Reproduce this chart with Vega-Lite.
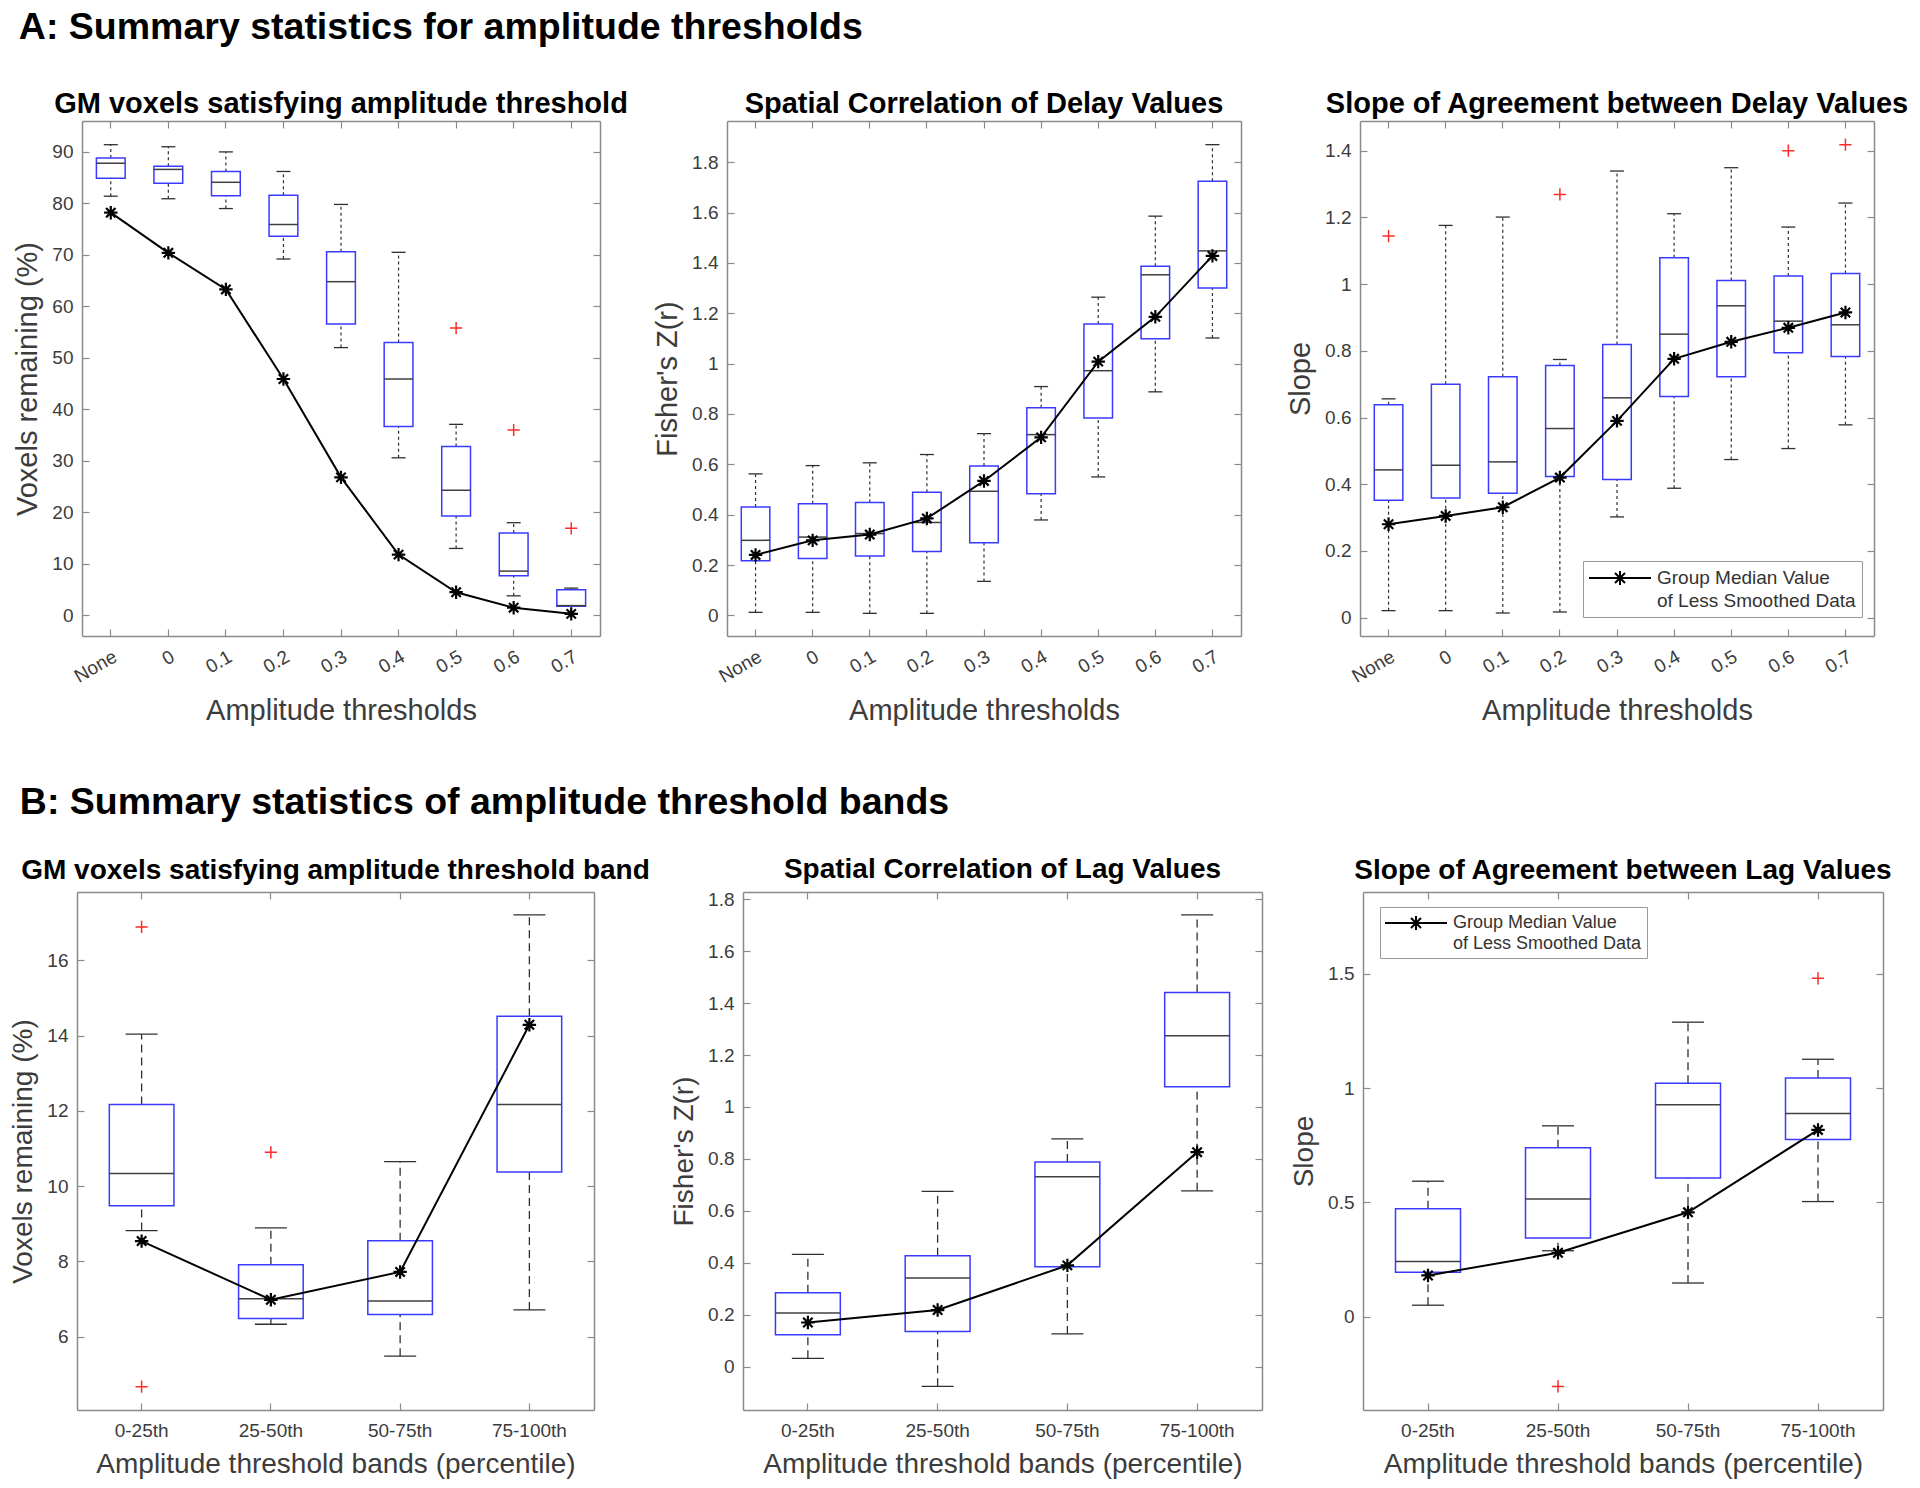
{
"$schema": "https://vega.github.io/schema/vega-lite/v6.json",
"background": "white",
"padding": {"left": 9, "top": 8, "right": 4, "bottom": 6},
"spacing": 57,
"resolve": {"scale": {"stroke": "independent"}, "legend": {"stroke": "independent"}},
"datasets": {
"a1": [
{"cat":"None","lo":81.4,"q1":84.9,"med":87.8,"q3":88.8,"hi":91.4,"star":78.2},
{"cat":"0","lo":80.9,"q1":83.9,"med":86.6,"q3":87.2,"hi":91.0,"star":70.4},
{"cat":"0.1","lo":79.0,"q1":81.5,"med":84.1,"q3":86.2,"hi":90.0,"star":63.3},
{"cat":"0.2","lo":69.2,"q1":73.6,"med":75.9,"q3":81.6,"hi":86.2,"star":45.9},
{"cat":"0.3","lo":52.0,"q1":56.6,"med":64.8,"q3":70.6,"hi":79.8,"star":26.8},
{"cat":"0.4","lo":30.6,"q1":36.7,"med":45.9,"q3":53.0,"hi":70.5,"star":11.8},
{"cat":"0.5","lo":13.0,"q1":19.3,"med":24.3,"q3":32.8,"hi":37.1,"star":4.5},
{"cat":"0.6","lo":3.8,"q1":7.7,"med":8.6,"q3":16.0,"hi":18.0,"star":1.5},
{"cat":"0.7","lo":1.8,"q1":1.8,"med":1.9,"q3":5.0,"hi":5.3,"star":0.3}
],
"a1o": [{"cat":"0.5","v":55.8},{"cat":"0.6","v":36.0},{"cat":"0.7","v":16.9}],
"a2": [
{"cat":"None","lo":0.012,"q1":0.217,"med":0.298,"q3":0.430,"hi":0.562,"star":0.240},
{"cat":"0","lo":0.012,"q1":0.226,"med":0.311,"q3":0.443,"hi":0.595,"star":0.298},
{"cat":"0.1","lo":0.008,"q1":0.236,"med":0.325,"q3":0.448,"hi":0.606,"star":0.321},
{"cat":"0.2","lo":0.008,"q1":0.254,"med":0.369,"q3":0.489,"hi":0.639,"star":0.385},
{"cat":"0.3","lo":0.135,"q1":0.288,"med":0.493,"q3":0.593,"hi":0.722,"star":0.534},
{"cat":"0.4","lo":0.379,"q1":0.483,"med":0.718,"q3":0.825,"hi":0.909,"star":0.707},
{"cat":"0.5","lo":0.550,"q1":0.784,"med":0.972,"q3":1.158,"hi":1.264,"star":1.008},
{"cat":"0.6","lo":0.888,"q1":1.099,"med":1.353,"q3":1.387,"hi":1.586,"star":1.186},
{"cat":"0.7","lo":1.102,"q1":1.301,"med":1.448,"q3":1.725,"hi":1.870,"star":1.428}
],
"a3": [
{"cat":"None","lo":0.021,"q1":0.352,"med":0.443,"q3":0.638,"hi":0.656,"star":0.280},
{"cat":"0","lo":0.021,"q1":0.359,"med":0.457,"q3":0.700,"hi":1.176,"star":0.305},
{"cat":"0.1","lo":0.014,"q1":0.373,"med":0.467,"q3":0.722,"hi":1.201,"star":0.331},
{"cat":"0.2","lo":0.017,"q1":0.423,"med":0.567,"q3":0.756,"hi":0.774,"star":0.420},
{"cat":"0.3","lo":0.302,"q1":0.414,"med":0.659,"q3":0.819,"hi":1.339,"star":0.590},
{"cat":"0.4","lo":0.388,"q1":0.663,"med":0.850,"q3":1.079,"hi":1.211,"star":0.776},
{"cat":"0.5","lo":0.474,"q1":0.722,"med":0.935,"q3":1.011,"hi":1.349,"star":0.827},
{"cat":"0.6","lo":0.507,"q1":0.794,"med":0.889,"q3":1.024,"hi":1.171,"star":0.869},
{"cat":"0.7","lo":0.578,"q1":0.783,"med":0.878,"q3":1.032,"hi":1.243,"star":0.915}
],
"a3o": [{"cat":"None","v":1.144},{"cat":"0.2","v":1.269},{"cat":"0.6","v":1.400},{"cat":"0.7","v":1.418}],
"b1": [
{"cat":"0-25th","lo":8.82,"q1":9.48,"med":10.34,"q3":12.17,"hi":14.04,"star":8.54},
{"cat":"25-50th","lo":6.33,"q1":6.48,"med":7.01,"q3":7.91,"hi":8.89,"star":6.98},
{"cat":"50-75th","lo":5.48,"q1":6.59,"med":6.95,"q3":8.55,"hi":10.65,"star":7.72},
{"cat":"75-100th","lo":6.71,"q1":10.38,"med":12.17,"q3":14.52,"hi":17.21,"star":14.29}
],
"b1o": [{"cat":"0-25th","v":16.89},{"cat":"0-25th","v":4.67},{"cat":"25-50th","v":10.90}],
"b2": [
{"cat":"0-25th","lo":0.032,"q1":0.123,"med":0.207,"q3":0.285,"hi":0.432,"star":0.170},
{"cat":"25-50th","lo":-0.076,"q1":0.135,"med":0.341,"q3":0.427,"hi":0.675,"star":0.218},
{"cat":"50-75th","lo":0.126,"q1":0.385,"med":0.731,"q3":0.788,"hi":0.877,"star":0.390},
{"cat":"75-100th","lo":0.677,"q1":1.078,"med":1.274,"q3":1.441,"hi":1.740,"star":0.826}
],
"b3": [
{"cat":"0-25th","lo":0.051,"q1":0.195,"med":0.242,"q3":0.473,"hi":0.593,"star":0.181},
{"cat":"25-50th","lo":0.289,"q1":0.345,"med":0.515,"q3":0.739,"hi":0.835,"star":0.280},
{"cat":"50-75th","lo":0.148,"q1":0.607,"med":0.927,"q3":1.021,"hi":1.288,"star":0.457},
{"cat":"75-100th","lo":0.504,"q1":0.775,"med":0.889,"q3":1.044,"hi":1.126,"star":0.817}
],
"b3o": [{"cat":"25-50th","v":-0.304},{"cat":"75-100th","v":1.480}]
},
"vconcat": [
{
"title": {"text": "A: Summary statistics for amplitude thresholds", "anchor": "start", "frame": "bounds", "fontSize": 37.5, "offset": 14, "dx": 5, "baseline": "alphabetic"},
"bounds": "flush",
"spacing": 119,
"resolve": {"scale": {"stroke": "independent"}, "legend": {"stroke": "independent"}},
"hconcat": [
{
"width": 531, "height": 515,
"title": {"text": "GM voxels satisfying amplitude threshold", "frame": "group", "dx": -1.5, "offset": -22, "baseline": "alphabetic", "fontSize": 29},
"encoding": {"x": {"field": "cat", "type": "nominal", "sort": ["None","0","0.1","0.2","0.3","0.4","0.5","0.6","0.7"], "scale": {"range": [5, 523], "paddingInner": 0.5, "paddingOuter": 0.25}, "axis": null}},
"layer": [
{"data": {"name": "a1"}, "mark": {"type": "rule", "color": "#303030", "strokeWidth": 1.2, "strokeDash": [3, 3]}, "encoding": {"y": {"field": "lo", "type": "quantitative", "scale": {"domain": [-4, 96], "nice": false, "zero": false}, "axis": null}, "y2": {"field": "q1"}}},
{"data": {"name": "a1"}, "mark": {"type": "rule", "color": "#303030", "strokeWidth": 1.2, "strokeDash": [3, 3]}, "encoding": {"y": {"field": "q3", "type": "quantitative", "scale": {"domain": [-4, 96], "nice": false, "zero": false}, "axis": null}, "y2": {"field": "hi"}}},
{"data": {"name": "a1"}, "mark": {"type": "tick", "color": "#303030", "size": 14, "thickness": 1.3, "opacity": 1}, "encoding": {"y": {"field": "lo", "type": "quantitative", "scale": {"domain": [-4, 96], "nice": false, "zero": false}, "axis": null}}},
{"data": {"name": "a1"}, "mark": {"type": "tick", "color": "#303030", "size": 14, "thickness": 1.3, "opacity": 1}, "encoding": {"y": {"field": "hi", "type": "quantitative", "scale": {"domain": [-4, 96], "nice": false, "zero": false}, "axis": null}}},
{"data": {"name": "a1"}, "mark": {"type": "bar", "fillOpacity": 0, "stroke": "#3a3aff", "strokeWidth": 1.5}, "encoding": {
 "x": {"field": "cat", "type": "nominal", "sort": ["None","0","0.1","0.2","0.3","0.4","0.5","0.6","0.7"], "scale": {"range": [5, 523], "paddingInner": 0.5, "paddingOuter": 0.25}, "axis": {"orient": "bottom", "title": "Amplitude thresholds", "labelAngle": -30, "labelPadding": 18, "titlePadding": 10}},
 "y": {"field": "q1", "type": "quantitative", "scale": {"domain": [-4, 96], "nice": false, "zero": false}, "axis": {"orient": "left", "offset": -5, "values": [0,10,20,30,40,50,60,70,80,90], "labelExpr": "'' + round(datum.value*100)/100", "title": "Voxels remaining (%)"}},
 "y2": {"field": "q3"}}},
{"data": {"name": "a1"}, "mark": {"type": "tick", "color": "#404040", "size": 29, "thickness": 1.5, "opacity": 1}, "encoding": {
 "x": {"field": "cat", "type": "nominal", "sort": ["None","0","0.1","0.2","0.3","0.4","0.5","0.6","0.7"], "scale": {"range": [5, 523], "paddingInner": 0.5, "paddingOuter": 0.25}, "axis": {"orient": "top", "labels": false, "title": null, "minExtent": 0, "maxExtent": 0}},
 "y": {"field": "med", "type": "quantitative", "scale": {"domain": [-4, 96], "nice": false, "zero": false}, "axis": {"orient": "right", "values": [0,10,20,30,40,50,60,70,80,90], "labels": false, "title": null, "offset": -8, "minExtent": 0, "maxExtent": 0}}}},
{"data": {"name": "a1"}, "mark": {"type": "line", "color": "black", "strokeWidth": 2}, "encoding": {"y": {"field": "star", "type": "quantitative", "scale": {"domain": [-4, 96], "nice": false, "zero": false}, "axis": null}}},
{"data": {"name": "a1"}, "mark": {"type": "point", "shape": "M-1,0L1,0M0,-1L0,1M-0.7,-0.7L0.7,0.7M-0.7,0.7L0.7,-0.7", "filled": false, "color": "black", "strokeWidth": 2.2, "size": 180, "opacity": 1}, "encoding": {"y": {"field": "star", "type": "quantitative", "scale": {"domain": [-4, 96], "nice": false, "zero": false}, "axis": null}}},
{"data": {"name": "a1o"}, "mark": {"type": "point", "shape": "M-1,0L1,0M0,-1L0,1", "filled": false, "color": "#ff2a2a", "strokeWidth": 1.5, "size": 150, "opacity": 1}, "encoding": {"y": {"field": "v", "type": "quantitative", "scale": {"domain": [-4, 96], "nice": false, "zero": false}, "axis": null}}}
]
},
{
"width": 514, "height": 515,
"title": {"text": "Spatial Correlation of Delay Values", "frame": "group", "offset": -22, "baseline": "alphabetic", "fontSize": 29},
"encoding": {"x": {"field": "cat", "type": "nominal", "sort": ["None","0","0.1","0.2","0.3","0.4","0.5","0.6","0.7"], "scale": {"paddingInner": 0.5, "paddingOuter": 0.25}, "axis": null}},
"layer": [
{"data": {"name": "a2"}, "mark": {"type": "rule", "color": "#303030", "strokeWidth": 1.2, "strokeDash": [3, 3]}, "encoding": {"y": {"field": "lo", "type": "quantitative", "scale": {"domain": [-0.082, 1.964], "nice": false, "zero": false}, "axis": null}, "y2": {"field": "q1"}}},
{"data": {"name": "a2"}, "mark": {"type": "rule", "color": "#303030", "strokeWidth": 1.2, "strokeDash": [3, 3]}, "encoding": {"y": {"field": "q3", "type": "quantitative", "scale": {"domain": [-0.082, 1.964], "nice": false, "zero": false}, "axis": null}, "y2": {"field": "hi"}}},
{"data": {"name": "a2"}, "mark": {"type": "tick", "color": "#303030", "size": 14, "thickness": 1.3, "opacity": 1}, "encoding": {"y": {"field": "lo", "type": "quantitative", "scale": {"domain": [-0.082, 1.964], "nice": false, "zero": false}, "axis": null}}},
{"data": {"name": "a2"}, "mark": {"type": "tick", "color": "#303030", "size": 14, "thickness": 1.3, "opacity": 1}, "encoding": {"y": {"field": "hi", "type": "quantitative", "scale": {"domain": [-0.082, 1.964], "nice": false, "zero": false}, "axis": null}}},
{"data": {"name": "a2"}, "mark": {"type": "bar", "fillOpacity": 0, "stroke": "#3a3aff", "strokeWidth": 1.5}, "encoding": {
 "x": {"field": "cat", "type": "nominal", "sort": ["None","0","0.1","0.2","0.3","0.4","0.5","0.6","0.7"], "scale": {"paddingInner": 0.5, "paddingOuter": 0.25}, "axis": {"orient": "bottom", "title": "Amplitude thresholds", "labelAngle": -30, "labelPadding": 18, "titlePadding": 10}},
 "y": {"field": "q1", "type": "quantitative", "scale": {"domain": [-0.082, 1.964], "nice": false, "zero": false}, "axis": {"orient": "left", "values": [0,0.2,0.4,0.6,0.8,1,1.2,1.4,1.6,1.8], "labelExpr": "'' + round(datum.value*100)/100", "title": "Fisher's Z(r)"}},
 "y2": {"field": "q3"}}},
{"data": {"name": "a2"}, "mark": {"type": "tick", "color": "#404040", "size": 29, "thickness": 1.5, "opacity": 1}, "encoding": {
 "x": {"field": "cat", "type": "nominal", "sort": ["None","0","0.1","0.2","0.3","0.4","0.5","0.6","0.7"], "scale": {"paddingInner": 0.5, "paddingOuter": 0.25}, "axis": {"orient": "top", "labels": false, "title": null, "minExtent": 0, "maxExtent": 0}},
 "y": {"field": "med", "type": "quantitative", "scale": {"domain": [-0.082, 1.964], "nice": false, "zero": false}, "axis": {"orient": "right", "values": [0,0.2,0.4,0.6,0.8,1,1.2,1.4,1.6,1.8], "labels": false, "title": null, "minExtent": 0, "maxExtent": 0}}}},
{"data": {"name": "a2"}, "mark": {"type": "line", "color": "black", "strokeWidth": 2}, "encoding": {"y": {"field": "star", "type": "quantitative", "scale": {"domain": [-0.082, 1.964], "nice": false, "zero": false}, "axis": null}}},
{"data": {"name": "a2"}, "mark": {"type": "point", "shape": "M-1,0L1,0M0,-1L0,1M-0.7,-0.7L0.7,0.7M-0.7,0.7L0.7,-0.7", "filled": false, "color": "black", "strokeWidth": 2.2, "size": 180, "opacity": 1}, "encoding": {"y": {"field": "star", "type": "quantitative", "scale": {"domain": [-0.082, 1.964], "nice": false, "zero": false}, "axis": null}}}
]
},
{
"width": 514, "height": 515,
"title": {"text": "Slope of Agreement between Delay Values", "frame": "group", "offset": -22, "baseline": "alphabetic", "fontSize": 29},
"encoding": {"x": {"field": "cat", "type": "nominal", "sort": ["None","0","0.1","0.2","0.3","0.4","0.5","0.6","0.7"], "scale": {"paddingInner": 0.5, "paddingOuter": 0.25}, "axis": null}},
"layer": [
{"data": {"name": "a3"}, "mark": {"type": "rule", "color": "#303030", "strokeWidth": 1.2, "strokeDash": [3, 3]}, "encoding": {"y": {"field": "lo", "type": "quantitative", "scale": {"domain": [-0.055, 1.489], "nice": false, "zero": false}, "axis": null}, "y2": {"field": "q1"}}},
{"data": {"name": "a3"}, "mark": {"type": "rule", "color": "#303030", "strokeWidth": 1.2, "strokeDash": [3, 3]}, "encoding": {"y": {"field": "q3", "type": "quantitative", "scale": {"domain": [-0.055, 1.489], "nice": false, "zero": false}, "axis": null}, "y2": {"field": "hi"}}},
{"data": {"name": "a3"}, "mark": {"type": "tick", "color": "#303030", "size": 14, "thickness": 1.3, "opacity": 1}, "encoding": {"y": {"field": "lo", "type": "quantitative", "scale": {"domain": [-0.055, 1.489], "nice": false, "zero": false}, "axis": null}}},
{"data": {"name": "a3"}, "mark": {"type": "tick", "color": "#303030", "size": 14, "thickness": 1.3, "opacity": 1}, "encoding": {"y": {"field": "hi", "type": "quantitative", "scale": {"domain": [-0.055, 1.489], "nice": false, "zero": false}, "axis": null}}},
{"data": {"name": "a3"}, "mark": {"type": "bar", "fillOpacity": 0, "stroke": "#3a3aff", "strokeWidth": 1.5}, "encoding": {
 "x": {"field": "cat", "type": "nominal", "sort": ["None","0","0.1","0.2","0.3","0.4","0.5","0.6","0.7"], "scale": {"paddingInner": 0.5, "paddingOuter": 0.25}, "axis": {"orient": "bottom", "title": "Amplitude thresholds", "labelAngle": -30, "labelPadding": 18, "titlePadding": 10}},
 "y": {"field": "q1", "type": "quantitative", "scale": {"domain": [-0.055, 1.489], "nice": false, "zero": false}, "axis": {"orient": "left", "values": [0,0.2,0.4,0.6,0.8,1,1.2,1.4], "labelExpr": "'' + round(datum.value*100)/100", "title": "Slope"}},
 "y2": {"field": "q3"}}},
{"data": {"name": "a3"}, "mark": {"type": "tick", "color": "#404040", "size": 29, "thickness": 1.5, "opacity": 1}, "encoding": {
 "x": {"field": "cat", "type": "nominal", "sort": ["None","0","0.1","0.2","0.3","0.4","0.5","0.6","0.7"], "scale": {"paddingInner": 0.5, "paddingOuter": 0.25}, "axis": {"orient": "top", "labels": false, "title": null, "minExtent": 0, "maxExtent": 0}},
 "y": {"field": "med", "type": "quantitative", "scale": {"domain": [-0.055, 1.489], "nice": false, "zero": false}, "axis": {"orient": "right", "values": [0,0.2,0.4,0.6,0.8,1,1.2,1.4], "labels": false, "title": null, "minExtent": 0, "maxExtent": 0}}}},
{"data": {"name": "a3"}, "mark": {"type": "line", "strokeWidth": 2}, "encoding": {
 "y": {"field": "star", "type": "quantitative", "scale": {"domain": [-0.055, 1.489], "nice": false, "zero": false}, "axis": null},
 "stroke": {"datum": "Group Median Value of Less Smoothed Data", "type": "nominal", "scale": {"range": ["black"]}, "legend": {"orient": "none", "legendX": 223, "legendY": 440, "title": null, "symbolType": "M-3.1,0L3.1,0M-0.7,0L0.7,0M0,-0.7L0,0.7M-0.5,-0.5L0.5,0.5M-0.5,0.5L0.5,-0.5", "symbolSize": 400, "symbolOffset": 20, "symbolStrokeWidth": 2, "symbolStrokeColor": "black", "symbolFillColor": "transparent", "labelExpr": "['Group Median Value', 'of Less Smoothed Data']", "labelFont": "Liberation Sans", "labelFontSize": 19, "labelColor": "#333333", "labelLimit": 0, "labelOffset": 26, "padding": 6, "strokeColor": "#9a9a9a", "fillColor": "white", "cornerRadius": 0, "encode": {"labels": {"update": {"lineHeight": {"value": 23}}}}}}}},
{"data": {"name": "a3"}, "mark": {"type": "point", "shape": "M-1,0L1,0M0,-1L0,1M-0.7,-0.7L0.7,0.7M-0.7,0.7L0.7,-0.7", "filled": false, "color": "black", "strokeWidth": 2.2, "size": 180, "opacity": 1}, "encoding": {"y": {"field": "star", "type": "quantitative", "scale": {"domain": [-0.055, 1.489], "nice": false, "zero": false}, "axis": null}}},
{"data": {"name": "a3o"}, "mark": {"type": "point", "shape": "M-1,0L1,0M0,-1L0,1", "filled": false, "color": "#ff2a2a", "strokeWidth": 1.5, "size": 150, "opacity": 1}, "encoding": {"y": {"field": "v", "type": "quantitative", "scale": {"domain": [-0.055, 1.489], "nice": false, "zero": false}, "axis": null}}}
]
}
]
},
{
"title": {"text": "B: Summary statistics of amplitude threshold bands", "anchor": "start", "frame": "bounds", "fontSize": 37.5, "offset": 5, "dx": 10, "baseline": "alphabetic"},
"bounds": "flush",
"spacing": 101,
"resolve": {"scale": {"stroke": "independent"}, "legend": {"stroke": "independent"}},
"hconcat": [
{
"width": 565, "height": 518,
"title": {"text": "GM voxels satisfying amplitude threshold band", "frame": "group", "dx": -24, "offset": -16, "baseline": "alphabetic", "fontSize": 28},
"encoding": {"x": {"field": "cat", "type": "nominal", "sort": ["0-25th","25-50th","50-75th","75-100th"], "scale": {"range": [0, 517], "paddingInner": 0.5, "paddingOuter": 0.25}, "axis": null}},
"layer": [
{"data": {"name": "b1"}, "mark": {"type": "rule", "color": "#303030", "strokeWidth": 1.3, "strokeDash": [8, 5]}, "encoding": {"y": {"field": "lo", "type": "quantitative", "scale": {"domain": [4.05, 17.82], "nice": false, "zero": false}, "axis": null}, "y2": {"field": "q1"}}},
{"data": {"name": "b1"}, "mark": {"type": "rule", "color": "#303030", "strokeWidth": 1.3, "strokeDash": [8, 5]}, "encoding": {"y": {"field": "q3", "type": "quantitative", "scale": {"domain": [4.05, 17.82], "nice": false, "zero": false}, "axis": null}, "y2": {"field": "hi"}}},
{"data": {"name": "b1"}, "mark": {"type": "tick", "color": "#303030", "size": 32, "thickness": 1.3, "opacity": 1}, "encoding": {"y": {"field": "lo", "type": "quantitative", "scale": {"domain": [4.05, 17.82], "nice": false, "zero": false}, "axis": null}}},
{"data": {"name": "b1"}, "mark": {"type": "tick", "color": "#303030", "size": 32, "thickness": 1.3, "opacity": 1}, "encoding": {"y": {"field": "hi", "type": "quantitative", "scale": {"domain": [4.05, 17.82], "nice": false, "zero": false}, "axis": null}}},
{"data": {"name": "b1"}, "mark": {"type": "bar", "fillOpacity": 0, "stroke": "#3a3aff", "strokeWidth": 1.5}, "encoding": {
 "x": {"field": "cat", "type": "nominal", "sort": ["0-25th","25-50th","50-75th","75-100th"], "scale": {"range": [0, 517], "paddingInner": 0.5, "paddingOuter": 0.25}, "axis": {"orient": "bottom", "title": "Amplitude threshold bands (percentile)", "labelAngle": 0, "labelPadding": 18, "titlePadding": 10, "titleFontSize": 28}},
 "y": {"field": "q1", "type": "quantitative", "scale": {"domain": [4.05, 17.82], "nice": false, "zero": false}, "axis": {"orient": "left", "values": [6,8,10,12,14,16], "labelExpr": "'' + round(datum.value*100)/100", "title": "Voxels remaining (%)", "titleFontSize": 28, "titlePadding": 9}},
 "y2": {"field": "q3"}}},
{"data": {"name": "b1"}, "mark": {"type": "tick", "color": "#404040", "size": 65, "thickness": 1.5, "opacity": 1}, "encoding": {
 "x": {"field": "cat", "type": "nominal", "sort": ["0-25th","25-50th","50-75th","75-100th"], "scale": {"range": [0, 517], "paddingInner": 0.5, "paddingOuter": 0.25}, "axis": {"orient": "top", "labels": false, "title": null, "minExtent": 0, "maxExtent": 0}},
 "y": {"field": "med", "type": "quantitative", "scale": {"domain": [4.05, 17.82], "nice": false, "zero": false}, "axis": {"orient": "right", "values": [6,8,10,12,14,16], "labels": false, "title": null, "offset": -48, "minExtent": 0, "maxExtent": 0}}}},
{"data": {"name": "b1"}, "mark": {"type": "line", "color": "black", "strokeWidth": 2}, "encoding": {"y": {"field": "star", "type": "quantitative", "scale": {"domain": [4.05, 17.82], "nice": false, "zero": false}, "axis": null}}},
{"data": {"name": "b1"}, "mark": {"type": "point", "shape": "M-1,0L1,0M0,-1L0,1M-0.7,-0.7L0.7,0.7M-0.7,0.7L0.7,-0.7", "filled": false, "color": "black", "strokeWidth": 2.2, "size": 180, "opacity": 1}, "encoding": {"y": {"field": "star", "type": "quantitative", "scale": {"domain": [4.05, 17.82], "nice": false, "zero": false}, "axis": null}}},
{"data": {"name": "b1o"}, "mark": {"type": "point", "shape": "M-1,0L1,0M0,-1L0,1", "filled": false, "color": "#ff2a2a", "strokeWidth": 1.5, "size": 150, "opacity": 1}, "encoding": {"y": {"field": "v", "type": "quantitative", "scale": {"domain": [4.05, 17.82], "nice": false, "zero": false}, "axis": null}}}
]
},
{
"width": 519, "height": 518,
"title": {"text": "Spatial Correlation of Lag Values", "frame": "group", "offset": -16, "baseline": "alphabetic", "fontSize": 28},
"encoding": {"x": {"field": "cat", "type": "nominal", "sort": ["0-25th","25-50th","50-75th","75-100th"], "scale": {"paddingInner": 0.5, "paddingOuter": 0.25}, "axis": null}},
"layer": [
{"data": {"name": "b2"}, "mark": {"type": "rule", "color": "#303030", "strokeWidth": 1.3, "strokeDash": [8, 5]}, "encoding": {"y": {"field": "lo", "type": "quantitative", "scale": {"domain": [-0.167, 1.828], "nice": false, "zero": false}, "axis": null}, "y2": {"field": "q1"}}},
{"data": {"name": "b2"}, "mark": {"type": "rule", "color": "#303030", "strokeWidth": 1.3, "strokeDash": [8, 5]}, "encoding": {"y": {"field": "q3", "type": "quantitative", "scale": {"domain": [-0.167, 1.828], "nice": false, "zero": false}, "axis": null}, "y2": {"field": "hi"}}},
{"data": {"name": "b2"}, "mark": {"type": "tick", "color": "#303030", "size": 32, "thickness": 1.3, "opacity": 1}, "encoding": {"y": {"field": "lo", "type": "quantitative", "scale": {"domain": [-0.167, 1.828], "nice": false, "zero": false}, "axis": null}}},
{"data": {"name": "b2"}, "mark": {"type": "tick", "color": "#303030", "size": 32, "thickness": 1.3, "opacity": 1}, "encoding": {"y": {"field": "hi", "type": "quantitative", "scale": {"domain": [-0.167, 1.828], "nice": false, "zero": false}, "axis": null}}},
{"data": {"name": "b2"}, "mark": {"type": "bar", "fillOpacity": 0, "stroke": "#3a3aff", "strokeWidth": 1.5}, "encoding": {
 "x": {"field": "cat", "type": "nominal", "sort": ["0-25th","25-50th","50-75th","75-100th"], "scale": {"paddingInner": 0.5, "paddingOuter": 0.25}, "axis": {"orient": "bottom", "title": "Amplitude threshold bands (percentile)", "labelAngle": 0, "labelPadding": 18, "titlePadding": 10, "titleFontSize": 28}},
 "y": {"field": "q1", "type": "quantitative", "scale": {"domain": [-0.167, 1.828], "nice": false, "zero": false}, "axis": {"orient": "left", "values": [0,0.2,0.4,0.6,0.8,1,1.2,1.4,1.6,1.8], "labelExpr": "'' + round(datum.value*100)/100", "title": "Fisher's Z(r)", "titleFontSize": 28}},
 "y2": {"field": "q3"}}},
{"data": {"name": "b2"}, "mark": {"type": "tick", "color": "#404040", "size": 65, "thickness": 1.5, "opacity": 1}, "encoding": {
 "x": {"field": "cat", "type": "nominal", "sort": ["0-25th","25-50th","50-75th","75-100th"], "scale": {"paddingInner": 0.5, "paddingOuter": 0.25}, "axis": {"orient": "top", "labels": false, "title": null, "minExtent": 0, "maxExtent": 0}},
 "y": {"field": "med", "type": "quantitative", "scale": {"domain": [-0.167, 1.828], "nice": false, "zero": false}, "axis": {"orient": "right", "values": [0,0.2,0.4,0.6,0.8,1,1.2,1.4,1.6,1.8], "labels": false, "title": null, "minExtent": 0, "maxExtent": 0}}}},
{"data": {"name": "b2"}, "mark": {"type": "line", "color": "black", "strokeWidth": 2}, "encoding": {"y": {"field": "star", "type": "quantitative", "scale": {"domain": [-0.167, 1.828], "nice": false, "zero": false}, "axis": null}}},
{"data": {"name": "b2"}, "mark": {"type": "point", "shape": "M-1,0L1,0M0,-1L0,1M-0.7,-0.7L0.7,0.7M-0.7,0.7L0.7,-0.7", "filled": false, "color": "black", "strokeWidth": 2.2, "size": 180, "opacity": 1}, "encoding": {"y": {"field": "star", "type": "quantitative", "scale": {"domain": [-0.167, 1.828], "nice": false, "zero": false}, "axis": null}}}
]
},
{
"width": 520, "height": 518,
"title": {"text": "Slope of Agreement between Lag Values", "frame": "group", "offset": -16, "baseline": "alphabetic", "fontSize": 28},
"encoding": {"x": {"field": "cat", "type": "nominal", "sort": ["0-25th","25-50th","50-75th","75-100th"], "scale": {"paddingInner": 0.5, "paddingOuter": 0.25}, "axis": null}},
"layer": [
{"data": {"name": "b3"}, "mark": {"type": "rule", "color": "#303030", "strokeWidth": 1.3, "strokeDash": [8, 5]}, "encoding": {"y": {"field": "lo", "type": "quantitative", "scale": {"domain": [-0.407, 1.857], "nice": false, "zero": false}, "axis": null}, "y2": {"field": "q1"}}},
{"data": {"name": "b3"}, "mark": {"type": "rule", "color": "#303030", "strokeWidth": 1.3, "strokeDash": [8, 5]}, "encoding": {"y": {"field": "q3", "type": "quantitative", "scale": {"domain": [-0.407, 1.857], "nice": false, "zero": false}, "axis": null}, "y2": {"field": "hi"}}},
{"data": {"name": "b3"}, "mark": {"type": "tick", "color": "#303030", "size": 32, "thickness": 1.3, "opacity": 1}, "encoding": {"y": {"field": "lo", "type": "quantitative", "scale": {"domain": [-0.407, 1.857], "nice": false, "zero": false}, "axis": null}}},
{"data": {"name": "b3"}, "mark": {"type": "tick", "color": "#303030", "size": 32, "thickness": 1.3, "opacity": 1}, "encoding": {"y": {"field": "hi", "type": "quantitative", "scale": {"domain": [-0.407, 1.857], "nice": false, "zero": false}, "axis": null}}},
{"data": {"name": "b3"}, "mark": {"type": "bar", "fillOpacity": 0, "stroke": "#3a3aff", "strokeWidth": 1.5}, "encoding": {
 "x": {"field": "cat", "type": "nominal", "sort": ["0-25th","25-50th","50-75th","75-100th"], "scale": {"paddingInner": 0.5, "paddingOuter": 0.25}, "axis": {"orient": "bottom", "title": "Amplitude threshold bands (percentile)", "labelAngle": 0, "labelPadding": 18, "titlePadding": 10, "titleFontSize": 28}},
 "y": {"field": "q1", "type": "quantitative", "scale": {"domain": [-0.407, 1.857], "nice": false, "zero": false}, "axis": {"orient": "left", "values": [0,0.5,1,1.5], "labelExpr": "'' + round(datum.value*100)/100", "title": "Slope", "titleFontSize": 28}},
 "y2": {"field": "q3"}}},
{"data": {"name": "b3"}, "mark": {"type": "tick", "color": "#404040", "size": 65, "thickness": 1.5, "opacity": 1}, "encoding": {
 "x": {"field": "cat", "type": "nominal", "sort": ["0-25th","25-50th","50-75th","75-100th"], "scale": {"paddingInner": 0.5, "paddingOuter": 0.25}, "axis": {"orient": "top", "labels": false, "title": null, "minExtent": 0, "maxExtent": 0}},
 "y": {"field": "med", "type": "quantitative", "scale": {"domain": [-0.407, 1.857], "nice": false, "zero": false}, "axis": {"orient": "right", "values": [0,0.5,1,1.5], "labels": false, "title": null, "minExtent": 0, "maxExtent": 0}}}},
{"data": {"name": "b3"}, "mark": {"type": "line", "strokeWidth": 2}, "encoding": {
 "y": {"field": "star", "type": "quantitative", "scale": {"domain": [-0.407, 1.857], "nice": false, "zero": false}, "axis": null},
 "stroke": {"datum": "Group Median Value of Less Smoothed Data", "type": "nominal", "scale": {"range": ["black"]}, "legend": {"orient": "none", "legendX": 17, "legendY": 15, "title": null, "symbolType": "M-3.1,0L3.1,0M-0.7,0L0.7,0M0,-0.7L0,0.7M-0.5,-0.5L0.5,0.5M-0.5,0.5L0.5,-0.5", "symbolSize": 400, "symbolOffset": 20, "symbolStrokeWidth": 2, "symbolStrokeColor": "black", "symbolFillColor": "transparent", "labelExpr": "['Group Median Value', 'of Less Smoothed Data']", "labelFont": "Liberation Sans", "labelFontSize": 18, "labelColor": "#333333", "labelLimit": 0, "labelOffset": 26, "padding": 5, "strokeColor": "#9a9a9a", "fillColor": "white", "cornerRadius": 0, "encode": {"labels": {"update": {"lineHeight": {"value": 21}}}}}}}},
{"data": {"name": "b3"}, "mark": {"type": "point", "shape": "M-1,0L1,0M0,-1L0,1M-0.7,-0.7L0.7,0.7M-0.7,0.7L0.7,-0.7", "filled": false, "color": "black", "strokeWidth": 2.2, "size": 180, "opacity": 1}, "encoding": {"y": {"field": "star", "type": "quantitative", "scale": {"domain": [-0.407, 1.857], "nice": false, "zero": false}, "axis": null}}},
{"data": {"name": "b3o"}, "mark": {"type": "point", "shape": "M-1,0L1,0M0,-1L0,1", "filled": false, "color": "#ff2a2a", "strokeWidth": 1.5, "size": 150, "opacity": 1}, "encoding": {"y": {"field": "v", "type": "quantitative", "scale": {"domain": [-0.407, 1.857], "nice": false, "zero": false}, "axis": null}}}
]
}
]
}
],
"config": {
"view": {"stroke": null},
"font": "Liberation Sans",
"axis": {"grid": false, "domain": true, "domainColor": "#8a8a8a", "domainWidth": 1.5, "tickColor": "#8a8a8a", "tickWidth": 1.2, "tickSize": -7, "labelFont": "Liberation Sans", "labelFontSize": 19, "labelColor": "#3c3c3c", "labelPadding": 16, "labelOverlap": false, "titleFont": "Liberation Sans", "titleFontSize": 29, "titleFontWeight": "normal", "titleColor": "#3c3c3c", "titlePadding": 9},
"title": {"font": "Liberation Sans", "fontSize": 29, "fontWeight": "bold", "color": "black"}
}
}
